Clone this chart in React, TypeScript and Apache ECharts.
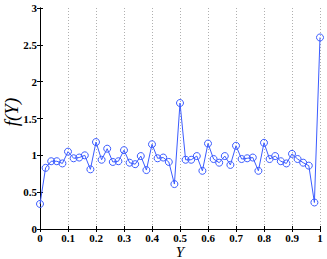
import React, { useEffect, useRef } from "react";
import * as echarts from "echarts";

const xValues = [
  0, 0.02, 0.04, 0.06, 0.08, 0.1, 0.12, 0.14, 0.16, 0.18,
  0.2, 0.22, 0.24, 0.26, 0.28, 0.3, 0.32, 0.34, 0.36, 0.38,
  0.4, 0.42, 0.44, 0.46, 0.48, 0.5, 0.52, 0.54, 0.56, 0.58,
  0.6, 0.62, 0.64, 0.66, 0.68, 0.7, 0.72, 0.74, 0.76, 0.78,
  0.8, 0.82, 0.84, 0.86, 0.88, 0.9, 0.92, 0.94, 0.96, 0.98, 1.0,
];
const fValues = [
  0.34, 0.83, 0.92, 0.92, 0.89, 1.05, 0.96, 0.97, 1.0, 0.81,
  1.18, 0.94, 1.09, 0.91, 0.92, 1.07, 0.9, 0.88, 0.99, 0.8,
  1.15, 0.96, 0.97, 0.91, 0.61, 1.71, 0.94, 0.94, 0.99, 0.79,
  1.16, 0.95, 0.9, 0.99, 0.87, 1.13, 0.95, 0.96, 0.97, 0.79,
  1.17, 0.95, 0.99, 0.92, 0.89, 1.02, 0.95, 0.9, 0.86, 0.36, 2.6,
];
const xName = "Y";
const yName = "f(Y)";

export default function App() {
  const ref = useRef<HTMLDivElement>(null);
  useEffect(() => {
    const chart = echarts.init(ref.current!, null, { renderer: "svg" });
    const labelStyle = {
      fontFamily: "Liberation Serif",
      fontWeight: "bold" as const,
      fontSize: 11,
      lineHeight: 11,
      color: "#000",
    };
    const axisLine = { show: true, lineStyle: { color: "#000", width: 1 } };
    const nameFont = {
      fontFamily: "Liberation Serif",
      fontStyle: "italic",
      fill: "#000",
      align: "center",
      verticalAlign: "middle",
    };
    chart.setOption({
      animation: false,
      grid: {
        left: 40,
        right: 7,
        top: 8,
        bottom: 30,
        containLabel: false,
        outerBoundsMode: "none",
      },
      graphic: [
        { type: "text", x: 180, y: 252, style: { text: xName, fontSize: 15, lineHeight: 14, ...nameFont } },
        { type: "text", x: 11, y: 112, rotation: Math.PI / 2, style: { text: yName, fontSize: 19, ...nameFont } },
      ],
      xAxis: [
        {
          type: "value",
          min: 0,
          max: 1,
          interval: 0.1,
          axisLine,
          axisTick: { show: true, inside: true, length: 3, lineStyle: { color: "#000" } },
          axisLabel: {
            ...labelStyle,
            margin: 3,
            formatter: (v: number) => String(Math.round(v * 10) / 10),
          },
          splitLine: { show: true, lineStyle: { color: "#b0b0b0", type: [1, 2], width: 1 } },
        },
        {
          type: "value",
          position: "top",
          min: 0,
          max: 1,
          interval: 0.1,
          axisLine,
          axisTick: { show: true, inside: true, length: 3, lineStyle: { color: "#000" } },
          axisLabel: { show: false },
          splitLine: { show: false },
        },
      ],
      yAxis: [
        {
          type: "value",
          min: 0,
          max: 3,
          interval: 0.5,
          axisLine,
          axisTick: { show: true, inside: true, length: 3, lineStyle: { color: "#000" } },
          axisLabel: { ...labelStyle, margin: 3 },
          splitLine: { show: false },
        },
        {
          type: "value",
          position: "right",
          min: 0,
          max: 3,
          interval: 0.5,
          axisLine,
          axisTick: { show: true, inside: true, length: 3, lineStyle: { color: "#000" } },
          axisLabel: { show: false },
          splitLine: { show: false },
        },
      ],
      series: [
        {
          type: "line",
          xAxisIndex: 0,
          yAxisIndex: 0,
          data: xValues.map((x, i) => [x, fValues[i]]),
          symbol: "circle",
          symbolSize: 7,
          lineStyle: { color: "#3b5cff", width: 1 },
          itemStyle: { color: "rgba(0,0,0,0)", borderColor: "#3b5cff", borderWidth: 1 },
        },
      ],
    });
    return () => chart.dispose();
  }, []);
  return <div ref={ref} style={{ width: 327, height: 259, position: "absolute", left: 0, top: 0 }} />;
}
